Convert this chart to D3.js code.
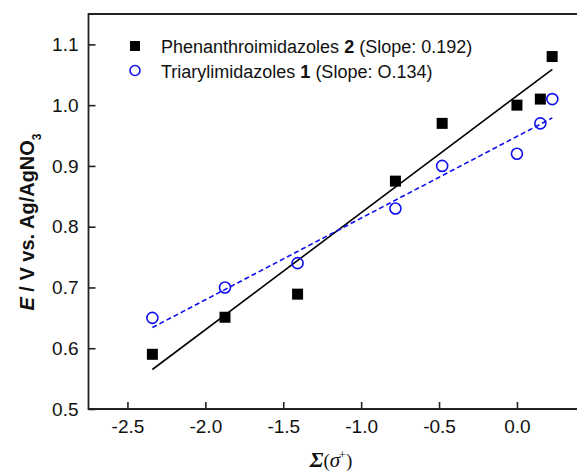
<!DOCTYPE html>
<html>
<head>
<meta charset="utf-8">
<script src="https://cdn.jsdelivr.net/npm/d3@7"></script>
<style>
body { margin: 0; background: #fff; }
text { font-family: "Liberation Sans", Arial, sans-serif; }
</style>
</head>
<body>
<div id="chart"></div>
<script>
// phenanthroimidazoles 2 (black squares)
const phenX = [-2.34, -1.874, -1.408, -0.78, -0.48, 0.0, 0.15, 0.226];
const phenY = [0.590, 0.651, 0.689, 0.875, 0.970, 1.000, 1.010, 1.080];
// triarylimidazoles 1 (blue circles)
const triX = [-2.34, -1.874, -1.408, -0.78, -0.48, 0.0, 0.15, 0.227];
const triY = [0.650, 0.700, 0.740, 0.830, 0.900, 0.920, 0.970, 1.010];
// fit line ends
const phenFitX = [-2.34, 0.227];
const phenFitY = [0.565, 1.059];
const triFitX = [-2.34, 0.227];
const triFitY = [0.634, 0.979];

const xTicks = [-2.5, -2.0, -1.5, -1.0, -0.5, 0.0];
const yTicks = [0.5, 0.6, 0.7, 0.8, 0.9, 1.0, 1.1];

const width = 577, height = 473;
const margin = { top: 14, left: 88.5, bottom: 64 };

const svg = d3.select('#chart')
  .append('svg')
  .attr('width', width)
  .attr('height', height);

const xScale = d3.scaleLinear()
  .domain([-2.75, 0.5])
  .range([margin.left, margin.left + 3.25 * 155.8]);

const yScale = d3.scaleLinear()
  .domain([0.5, 1.15])
  .range([height - margin.bottom, margin.top]);

// axes, ticks point inward
const xAxis = d3.axisBottom(xScale)
  .tickValues(xTicks)
  .tickSizeInner(-7)
  .tickSizeOuter(0)
  .tickPadding(11)
  .tickFormat(d3.format('.1f'));

const gx = svg.append('g')
  .attr('transform', `translate(0,${yScale(0.5)})`)
  .call(xAxis);
gx.select('.domain').remove();
gx.selectAll('line').attr('stroke', '#222').attr('stroke-width', 1.6);
gx.selectAll('text')
  .style('font-size', '19px')
  .attr('fill', '#111')
  .attr('font-family', '"Liberation Sans", Arial, sans-serif')
  .text(d => d3.format('.1f')(d).replace('−', '-'));

const yAxis = d3.axisLeft(yScale)
  .tickValues(yTicks)
  .tickSizeInner(-7)
  .tickSizeOuter(0)
  .tickPadding(10)
  .tickFormat(d3.format('.1f'));

const gy = svg.append('g')
  .attr('transform', `translate(${margin.left},0)`)
  .call(yAxis);
gy.select('.domain').remove();
gy.selectAll('line').attr('stroke', '#222').attr('stroke-width', 1.6);
gy.selectAll('text')
  .style('font-size', '19px')
  .attr('fill', '#111')
  .attr('font-family', '"Liberation Sans", Arial, sans-serif');

// frame: left, bottom, top (right side cut off)
svg.append('path')
  .attr('d', `M${width},${margin.top}H${margin.left}V${yScale(0.5)}H${width}`)
  .attr('fill', 'none')
  .attr('stroke', '#222')
  .attr('stroke-width', 1.8);

// fit lines
const line = d3.line()
  .x(d => xScale(d[0]))
  .y(d => yScale(d[1]));

svg.append('path')
  .datum(d3.zip(phenFitX, phenFitY))
  .attr('d', line)
  .attr('fill', 'none')
  .attr('stroke', '#000')
  .attr('stroke-width', 1.6);

svg.append('path')
  .datum(d3.zip(triFitX, triFitY))
  .attr('d', line)
  .attr('fill', 'none')
  .attr('stroke', '#1010ee')
  .attr('stroke-width', 1.6)
  .attr('stroke-dasharray', '5,3');

// markers
const sq = 11;
svg.append('g')
  .selectAll('rect')
  .data(d3.zip(phenX, phenY))
  .enter()
  .append('rect')
  .attr('x', d => xScale(d[0]) - sq / 2)
  .attr('y', d => yScale(d[1]) - sq / 2)
  .attr('width', sq)
  .attr('height', sq)
  .attr('fill', '#000');

svg.append('g')
  .selectAll('circle')
  .data(d3.zip(triX, triY))
  .enter()
  .append('circle')
  .attr('cx', d => xScale(d[0]))
  .attr('cy', d => yScale(d[1]))
  .attr('r', 5.5)
  .attr('fill', 'none')
  .attr('stroke', '#1010ee')
  .attr('stroke-width', 1.6);

// legend
const legend = svg.append('g');
legend.append('rect')
  .attr('x', 135 - 5).attr('y', 46 - 5)
  .attr('width', 10).attr('height', 10)
  .attr('fill', '#000');
legend.append('circle')
  .attr('cx', 135).attr('cy', 70.5)
  .attr('r', 5)
  .attr('fill', 'none')
  .attr('stroke', '#1010ee')
  .attr('stroke-width', 1.6);

const t1 = legend.append('text')
  .attr('x', 161).attr('y', 52.5)
  .style('font-size', '18px')
  .attr('fill', '#111');
t1.append('tspan').text('Phenanthroimidazoles ');
t1.append('tspan').attr('font-weight', 'bold').text('2');
t1.append('tspan').text(' (Slope: 0.192)');

const t2 = legend.append('text')
  .attr('x', 161).attr('y', 77.5)
  .style('font-size', '18px')
  .attr('fill', '#111');
t2.append('tspan').text('Triarylimidazoles ');
t2.append('tspan').attr('font-weight', 'bold').text('1');
t2.append('tspan').text(' (Slope: O.134)');

// y label
const yl = svg.append('text')
  .attr('transform', `translate(34,222) rotate(-90)`)
  .attr('text-anchor', 'middle')
  .style('font-size', '20px')
  .attr('font-weight', 'bold')
  .attr('fill', '#111');
yl.append('tspan').attr('font-style', 'italic').text('E');
yl.append('tspan').text(' / V vs. Ag/AgNO');
yl.append('tspan').attr('baseline-shift', 'sub').style('font-size', '12px').text('3');

// x label
const xl = svg.append('text')
  .attr('x', 331).attr('y', 467)
  .attr('text-anchor', 'middle')
  .attr('fill', '#111')
  .style('font-family', '"Liberation Serif", "Times New Roman", serif');
xl.append('tspan').attr('font-weight', 'bold').attr('font-style', 'italic').style('font-size', '22px').text('Σ');
xl.append('tspan').style('font-size', '19px').text('(');
xl.append('tspan').attr('font-style', 'italic').style('font-size', '21px').text('σ');
xl.append('tspan').attr('dx', -1).attr('dy', -8).style('font-size', '12px').text('+');
xl.append('tspan').attr('dy', 8).style('font-size', '19px').text(')');
</script>
</body>
</html>
